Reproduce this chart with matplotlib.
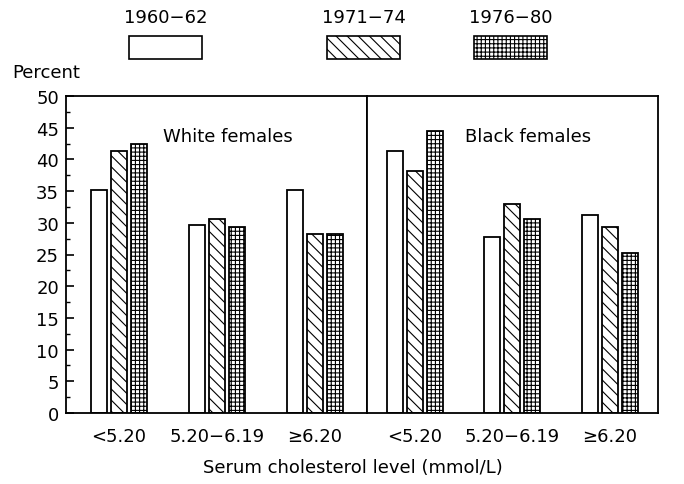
import numpy as np
import matplotlib
matplotlib.use('Agg')
import matplotlib.pyplot as plt
from matplotlib.patches import Rectangle
from matplotlib.ticker import MultipleLocator

# Доля женщин по уровню холестерина, три обследования
categories = ['<5.20', '5.20\u22126.19', '\u22656.20']
periods = ['1960\u221262', '1971\u221274', '1976\u221280']
white_females = [
    [35.2, 29.6, 35.2],   # 1960-62
    [41.4, 30.6, 28.2],   # 1971-74
    [42.4, 29.3, 28.3],   # 1976-80
]
black_females = [
    [41.3, 27.7, 31.2],
    [38.1, 33.0, 29.3],
    [44.5, 30.6, 25.2],
]
panel_titles = ['White females', 'Black females']
hatches = ['', '\\\\\\', '++++']

plt.rcParams['font.family'] = 'DejaVu Sans'
plt.rcParams['hatch.linewidth'] = 0.8
FS = 13

fig = plt.figure(figsize=(6.84, 4.85), dpi=100)
W, H = 684, 485
# две панели вплотную друг к другу
ax1 = fig.add_axes([66 / W, 1 - 414 / H, (367 - 66) / W, (414 - 97) / H])
ax2 = fig.add_axes([367 / W, 1 - 414 / H, (658 - 367) / W, (414 - 97) / H])

bar_w = 0.163
step = 0.204
x = np.arange(len(categories))

for ax, data, title, xlim, tx in [
        (ax1, white_females, panel_titles[0], (-0.54, 2.53), 1.11),
        (ax2, black_females, panel_titles[1], (-0.49, 2.495), 1.16)]:
    for i, vals in enumerate(data):
        ax.bar(x + (i - 1) * step, vals, width=bar_w, color='white',
               edgecolor='black', linewidth=1.3, hatch=hatches[i])
    ax.set_xlim(*xlim)
    ax.set_ylim(0, 50)
    ax.set_xticks(x)
    ax.set_xticklabels(categories, fontsize=FS)
    ax.tick_params(axis='x', length=0, pad=10)
    ax.text(tx, 43.7, title, fontsize=FS, ha='center', va='center')
    for s in ax.spines.values():
        s.set_linewidth(1.3)

ax1.yaxis.set_major_locator(MultipleLocator(5))
ax1.yaxis.set_minor_locator(MultipleLocator(2.5))
ax1.tick_params(axis='y', which='major', direction='in', length=6,
                width=1.2, labelsize=FS, pad=5)
ax1.tick_params(axis='y', which='minor', direction='in', length=3, width=1.0)
ax2.set_yticks([])

fig.text(12 / W, 1 - 73 / H, 'Percent', fontsize=FS, ha='left', va='center')
fig.text(353 / W, 1 - 468 / H, 'Serum cholesterol level (mmol/L)',
         fontsize=FS, ha='center', va='center')

# легенда: подпись над образцом заливки
box_left = [129, 327, 474]
for i, p in enumerate(periods):
    cx = box_left[i] + 36.5
    fig.text(cx / W, 1 - 18 / H, p, fontsize=FS, ha='center', va='center')
    fig.patches.append(Rectangle((box_left[i] / W, 1 - 60 / H), 73 / W, 23 / H,
                                 transform=fig.transFigure, facecolor='white',
                                 edgecolor='black', linewidth=1.2,
                                 hatch=hatches[i]))

fig.savefig('out.png', dpi=100)
